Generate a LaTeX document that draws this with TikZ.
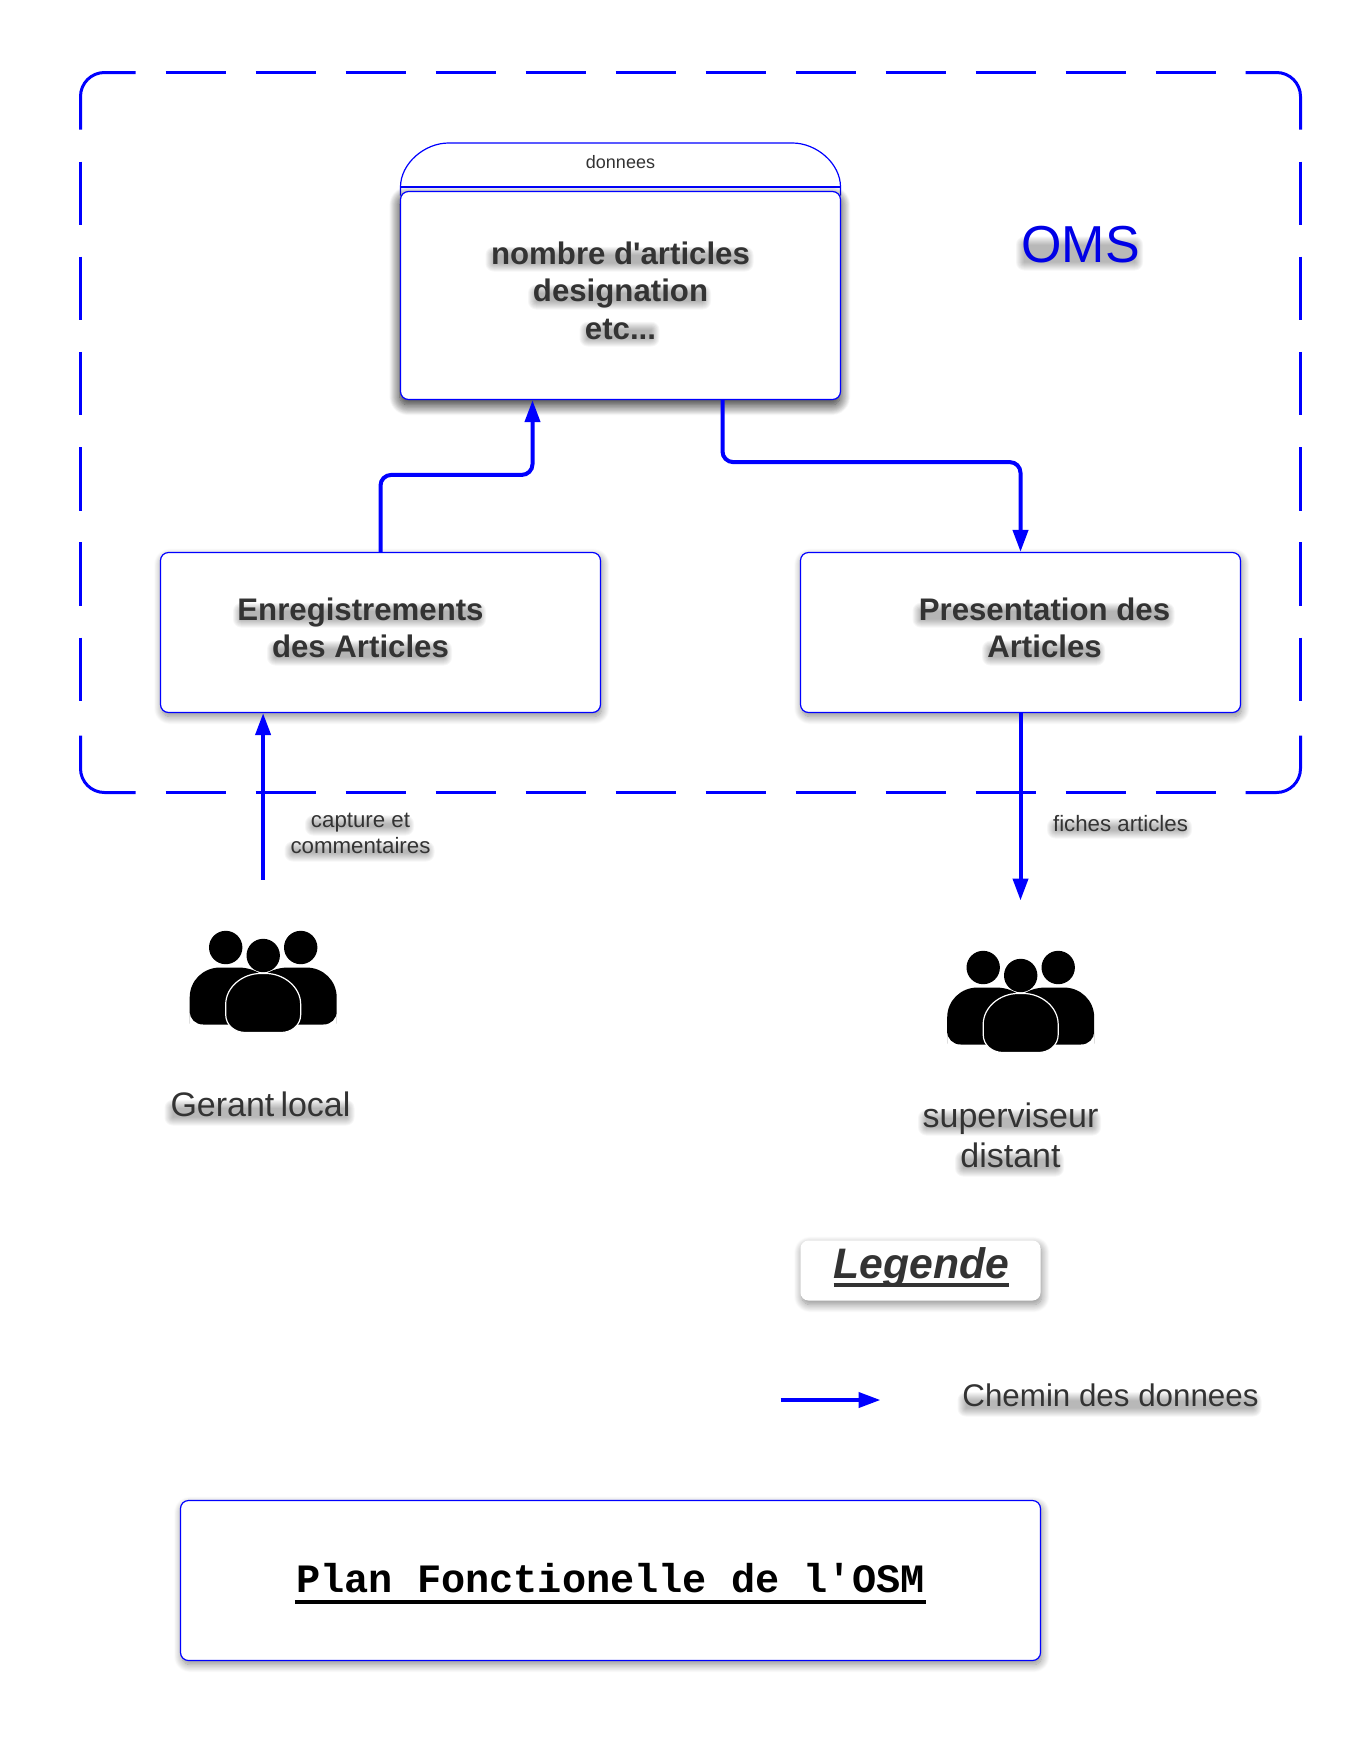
\documentclass[tikz,border=0pt]{standalone}
\usepackage{fontspec}
\setmainfont{Liberation Sans}[Ligatures=TeXOff]
\newfontfamily\lmono{Liberation Mono}
\usetikzlibrary{arrows.meta,shadows.blur,calc}
\definecolor{ink}{HTML}{333333}
\definecolor{omsblue}{HTML}{0000E6}
\newcommand{\fpx}[2]{\fontsize{#1pt}{#2pt}\selectfont}
% soft grey band under one line of text: centre x, baseline y, width, font size (px)
\newcommand{\haze}[4]{%
  \foreach \r in {-3,-2,-1,0,1,2,3,4,5}{
    \pgfmathsetmacro{\rc}{(\r+3.2)*.75}
    \fill[black,opacity=.036,rounded corners=\rc pt] ({#1-#3/2-1-\r},{#2-0.46*#4+3-\r}) rectangle ({#1+#3/2-1+\r},{#2+3+\r});
  }}
\tikzset{
  x=.75pt,y=-.75pt,
  softshadow/.style={blur shadow={shadow xshift=1pt,shadow yshift=-3pt,shadow blur steps=12,shadow blur radius=6pt,shadow opacity=46}},
  panel/.style={draw=blue,line width=.9pt,fill=white,rounded corners=6pt,inner sep=0pt,softshadow},
  frame/.style={draw=blue,line width=2.25pt},
  label/.style={inner sep=0pt,align=center,text=ink},
  conn/.style={draw=blue,line width=3pt,rounded corners=8pt,-{Triangle[length=16.5pt,width=11.25pt]}},
  plainconn/.style={draw=blue,line width=3pt,-{Triangle[length=16.5pt,width=11.25pt]}},
  person/.style={fill=black},
  pics/people/.style={code={
    \fill[person] (-37.5,-8) circle (16.7);
    \fill[person] (37.5,-8) circle (16.7);
    \fill[person] (-73.5,68) -- (-73.5,42) .. controls (-73.5,25) and (-60,12) .. (-43,12) -- (-25,12) .. controls (-5,12) and (10,25) .. (10,42) -- (10,69) -- (-60,69) .. controls (-68,69) and (-73.5,63) .. (-73.5,56) -- cycle;
    \fill[person] (73.5,68) -- (73.5,42) .. controls (73.5,25) and (60,12) .. (43,12) -- (25,12) .. controls (5,12) and (-10,25) .. (-10,42) -- (-10,69) -- (60,69) .. controls (68,69) and (73.5,63) .. (73.5,56) -- cycle;
    \fill[person] (0,0) circle (16.7);
    \draw[person,draw=white,line width=.9pt] (-37.5,49) .. controls (-37.5,31) and (-20,18) .. (-3,18) -- (3,18) .. controls (20,18) and (37.5,31) .. (37.5,49) -- (37.5,59) .. controls (37.5,70) and (28,77) .. (18,77) -- (-18,77) .. controls (-28,77) and (-37.5,70) .. (-37.5,59) -- cycle;
  }}
}
\begin{document}
\begin{tikzpicture}
\useasboundingbox (-.5,-.5) rectangle (1359.5,1759.5);
% OMS frame
\draw[frame,rounded corners=18pt] (135,72) -- (80,72) -- (80,129);
\draw[frame,dash pattern=on 45pt off 22.5pt] (165,72) -- (1215,72);
\draw[frame,rounded corners=18pt] (1245,72) -- (1300,72) -- (1300,129);
\draw[frame,dash pattern=on 47.6pt off 23.8pt] (80,161) -- (80,703);
\draw[frame,dash pattern=on 47.6pt off 23.8pt] (1300,161) -- (1300,703);
\draw[frame,rounded corners=18pt] (80,735) -- (80,792) -- (135,792);
\draw[frame,dash pattern=on 45pt off 22.5pt] (165,792) -- (1215,792);
\draw[frame,rounded corners=18pt] (1300,735) -- (1300,792) -- (1245,792);
% swimlane
\draw[draw=blue,line width=.9pt,fill=white] (400,195) -- (400,186.5) .. controls (400,163) and (424,142.5) .. (448,142.5) -- (792,142.5) .. controls (816,142.5) and (840,163) .. (840,186.5) -- (840,195);
\draw[draw=blue,line width=.9pt] (400,186.5) -- (840,186.5);
\node[panel,minimum width=330pt,minimum height=156pt,blur shadow={shadow xshift=-.5pt,shadow yshift=-4pt,shadow blur steps=14,shadow blur radius=8pt,shadow opacity=52}] (body) at (620,295) {};
\node[panel,minimum width=330pt,minimum height=120pt] (enreg) at (380,632) {};
\node[panel,minimum width=330pt,minimum height=120pt] (pres) at (1020,632) {};
\node[panel,draw=none,minimum width=180pt,minimum height=45pt] (legbox) at (920,1270) {};
\node[panel,minimum width=645pt,minimum height=120pt] (plan) at (610,1580) {};
% connectors
\draw[conn] (enreg.north) -- ++(0,-77) -| ([xshift=-66pt]body.south);
\draw[conn] ([xshift=76.5pt]body.south) -- ++(0,62) -| (pres.north);
\coordinate (gerantout) at (262.6,879);
\coordinate (supin) at (1020,900);
\draw[plainconn] (gerantout) -- (gerantout |- enreg.south);
\draw[plainconn] (pres.south) -- (supin);
\coordinate (lega) at (780,1399.5);
\coordinate (legb) at (880,1399.5);
\draw[plainconn] (lega) -- (legb);
% people icons
\pic (gerant) at (262.7,955) {people};
\pic (superv) at (1020.2,975) {people};
% soft text shadows
\haze{620}{263}{258}{32}\haze{620}{301}{173}{32}\haze{620}{338}{70}{32}
\haze{1080}{262}{117}{52}
\haze{360}{619}{243}{32}\haze{360}{657}{175}{32}
\haze{1044}{619}{252}{32}\haze{1044}{657}{113}{32}
\haze{360}{827}{99}{22}\haze{360}{853}{140}{22}
\haze{1120}{830}{135}{22}
\haze{260}{1117}{180}{34}
\haze{1010}{1127}{173}{34}\haze{1010}{1168}{99}{34}
\haze{1110}{1408}{294}{31}
% texts
\node[label,font=\fpx{13.5}{16}] (donnees) at (620,162) {donnees};
\node[label,font=\bfseries\fpx{23.4}{28.1}] (tbody) at (620,290) {nombre d'articles\\designation\\etc...};
\node[label,text=omsblue,font=\fpx{39}{45}] (toms) at (1080,244) {OMS};
\node[label,font=\bfseries\fpx{23.4}{28.1}] (tenreg) at (360,627.5) {Enregistrements\\des Articles};
\node[label,font=\bfseries\fpx{23.4}{28.1}] (tpres) at (1044,627.5) {Presentation des\\Articles};
\node[label,font=\fpx{16.7}{19.5}] (tcap) at (360,833) {capture et\\commentaires};
\node[label,font=\fpx{16.7}{19.5}] (tfiches) at (1120,823) {fiches articles};
\node[label,font=\fpx{25.5}{30}] (tgerant) at (260,1104) {Gerant\hspace{.18em}local};
\node[label,font=\fpx{25.5}{30}] (tsup) at (1010,1135) {superviseur\\distant};
\node[label,font=\bfseries\itshape\fpx{32}{36},anchor=base] (tleg) at (921,1278) {Legende};
\draw[ink,line width=3pt] ([yshift=-4.5pt]tleg.base west) -- ([yshift=-4.5pt]tleg.base east);
\node[label,font=\fpx{23.5}{28}] (tchemin) at (1110,1395) {Chemin des donnees};
\node[label,text=black,font=\lmono\bfseries\fpx{30.2}{34},anchor=base] (tplan) at (610,1592) {Plan Fonctionelle de l'OSM};
\draw[black,line width=3pt] ([yshift=-6.75pt,xshift=-1pt]tplan.base west) -- ([yshift=-6.75pt,xshift=1pt]tplan.base east);
\end{tikzpicture}
\end{document}
